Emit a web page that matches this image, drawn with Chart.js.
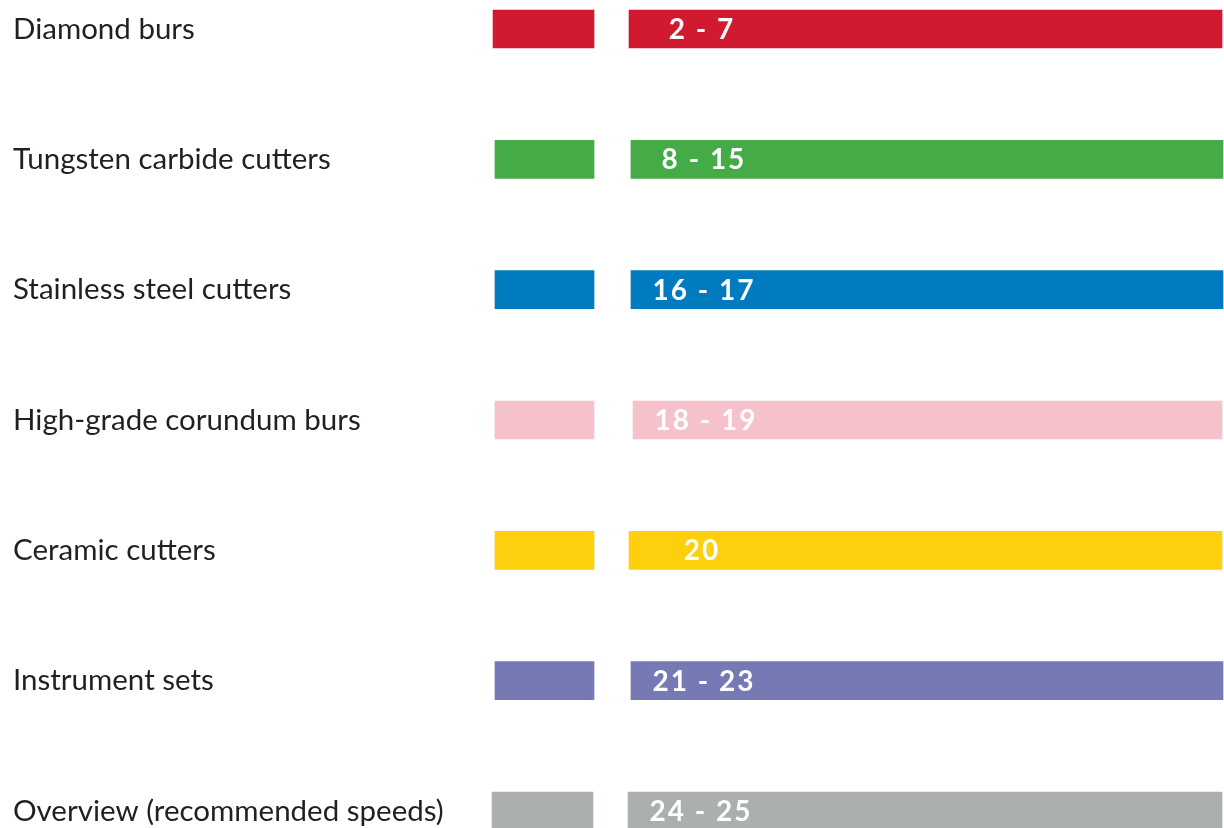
<!DOCTYPE html>
<html>
<head>
<meta charset="utf-8">
<script src="https://cdn.jsdelivr.net/npm/chart.js@4"></script>
<style>
  html, body { margin: 0; padding: 0; background: #fff; }
  #wrap { width: 1224px; height: 828px; }
</style>
</head>
<body>
<div id="wrap"><canvas id="toc"></canvas></div>
<script>
// Sections and their page ranges
const sections = ['Diamond burs', 'Tungsten carbide cutters', 'Stainless steel cutters',
    'High-grade corundum burs', 'Ceramic cutters', 'Instrument sets', 'Overview (recommended speeds)'];
const pageRanges = ['2 - 7', '8 - 15', '16 - 17', '18 - 19', '20', '21 - 23', '24 - 25'];
const sectionColors = ['#d11a2f', '#45ab46', '#007bc0', '#f5c1cb', '#fecf0d', '#7679b4', '#abafb0'];

// Horizontal extents (percent of width)
const swatchStart = [40.28, 40.44, 40.44, 40.44, 40.44, 40.44, 40.20];
const swatchEnd   = [48.53, 48.53, 48.53, 48.53, 48.53, 48.53, 48.45];
const bandStart   = [51.39, 51.55, 51.55, 51.72, 51.39, 51.55, 51.31];
const bandEnd     = [99.84, 99.92, 99.92, 99.84, 99.84, 99.92, 99.84];

const labelFont = '29.5px Lato, "Open Sans", sans-serif';

// Draw section names on the left and page numbers inside the long bars
const textPlugin = {
    id: 'tocText',
    afterDatasetsDraw(chart) {
        const ctx = chart.ctx;
        const yScale = chart.scales.y;
        ctx.save();
        ctx.textBaseline = 'middle';
        ctx.font = labelFont;
        ctx.fillStyle = '#231f20';
        ctx.textAlign = 'left';
        sections.forEach((name, i) => {
            ctx.fillText(name, 13, yScale.getPixelForValue(i));
        });
        const bands = chart.getDatasetMeta(1).data;
        ctx.font = 'bold 28px Lato, "Open Sans", sans-serif';
        ctx.fillStyle = '#ffffff';
        ctx.textAlign = 'center';
        ctx.letterSpacing = '2px';
        bands.forEach((bar, i) => {
            ctx.fillText(pageRanges[i], bar.base + 73, bar.y + 1);
        });
        ctx.restore();
    }
};

new Chart(document.getElementById('toc'), {
    type: 'bar',
    data: {
        labels: sections,
        datasets: [{
            data: sections.map((s, i) => [swatchStart[i], swatchEnd[i]]),
            backgroundColor: sectionColors,
            barThickness: 38,
            grouped: false,
            clip: false
        }, {
            data: sections.map((s, i) => [bandStart[i], bandEnd[i]]),
            backgroundColor: sectionColors,
            barThickness: 38,
            grouped: false,
            clip: false
        }]
    },
    options: {
        indexAxis: 'y',
        responsive: true,
        maintainAspectRatio: false,
        animation: false,
        layout: { padding: { top: 29, bottom: 17, left: 0, right: 0 } },
        plugins: {
            legend: { display: false },
            tooltip: { enabled: false }
        },
        scales: {
            x: { display: false, min: 0, max: 100 },
            y: { display: false, offset: false }
        }
    },
    plugins: [textPlugin]
});
</script>
</body>
</html>
